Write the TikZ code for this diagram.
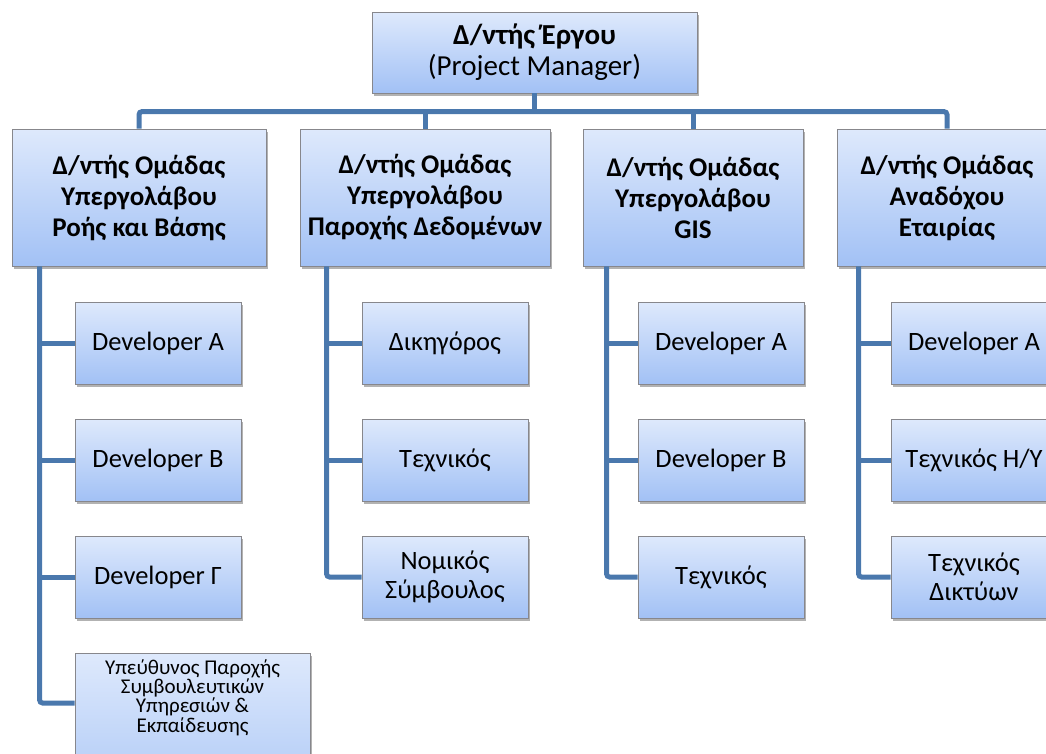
\documentclass[tikz,border=0pt]{standalone}
\usepackage{fontspec}
\setmainfont{Carlito}
\usetikzlibrary{shadows}
\definecolor{boxtop}{RGB}{222,233,252}
\definecolor{boxbot}{RGB}{162,193,245}
\definecolor{boxline}{RGB}{135,135,140}
\definecolor{linkblue}{RGB}{74,120,173}

\begin{document}
\begin{tikzpicture}[x=1pt, y=-1pt, every node/.style = {shape=rectangle, draw=boxline, line width=0.8pt, align=center, inner sep=2pt, top color=boxtop, bottom color=boxbot, drop shadow={shadow xshift=2pt, shadow yshift=-3pt, opacity=0.3, fill=black}}, head/.style = {minimum height=137pt, font=\fontsize{27}{31}\selectfont\bfseries}, member/.style = {minimum width=166pt, minimum height=82pt, font=\fontsize{26.5}{29}\selectfont}, link/.style = {draw=linkblue, line width=5pt, rounded corners=3pt}]
     \clip (0,0) rectangle (1046,753);
     \node[minimum width=325pt, minimum height=81pt, font=\fontsize{29}{31}\selectfont] (pm) at (534.5,52.5) {\textbf{Δ/ντής Έργου}\\(Project Manager)};
     \node[head, minimum width=254pt] (g1) at (139,197.5) {Δ/ντής Ομάδας\\Υπεργολάβου\\Ροής και Βάσης};
     \node[head, minimum width=250pt] (g2) at (425,197.5) {Δ/ντής Ομάδας\\Υπεργολάβου\\Παροχής Δεδομένων};
     \node[head, minimum width=220pt] (g3) at (693,197.5) {Δ/ντής Ομάδας\\Υπεργολάβου\\GIS};
     \node[head, minimum width=220pt] (g4) at (947,197.5) {Δ/ντής Ομάδας\\Αναδόχου\\Εταιρίας};
     \node[member] (a1) at (158,343) {Developer A};
     \node[member] (a2) at (158,460) {Developer B};
     \node[member] (a3) at (158,577) {Developer Γ};
     \node[member, anchor=north, minimum width=235pt, minimum height=0pt, inner ysep=6pt, text depth=95pt, font=\fontsize{21}{17.5}\selectfont] (a4) at (192.5,653) {Υπεύθυνος Παροχής\\Συμβουλευτικών\\Υπηρεσιών \&\\Εκπαίδευσης};
     \node[member] (b1) at (445,343) {Δικηγόρος};
     \node[member] (b2) at (445,460) {Τεχνικός};
     \node[member] (b3) at (445,577) {Νομικός\\Σύμβουλος};
     \node[member] (c1) at (721,343) {Developer A};
     \node[member] (c2) at (721,460) {Developer B};
     \node[member] (c3) at (721,577) {Τεχνικός};
     \node[member] (d1) at (974,343) {Developer A};
     \node[member] (d2) at (974,460) {Τεχνικός Η/Υ};
     \node[member] (d3) at (974,577) {Τεχνικός\\Δικτύων};
     \draw[link] (pm.south) -- ++(0,19);
     \draw[link] (g1.north) -- ++(0,-17) -| (g4.north);
     \draw[link] (g2.north) -- ++(0,-17);
     \draw[link] (g3.north) -- ++(0,-17);
     \coordinate (v1) at ([xshift=28pt]g1.south west);
     \coordinate (v2) at ([xshift=27pt]g2.south west);
     \coordinate (v3) at ([xshift=24pt]g3.south west);
     \coordinate (v4) at ([xshift=22pt]g4.south west);
     \draw[link] (v1) |- ([yshift=-50pt]a4.north west);
     \draw[link] (v2) |- (b3.west);
     \draw[link] (v3) |- (c3.west);
     \draw[link] (v4) |- (d3.west);
     \foreach \m/\v in {a1/v1, a2/v1, a3/v1, b1/v2, b2/v2, c1/v3, c2/v3, d1/v4, d2/v4}
         \draw[link] (\m.west) -- (\m.west -| \v);
     \end{tikzpicture}
\end{document}
